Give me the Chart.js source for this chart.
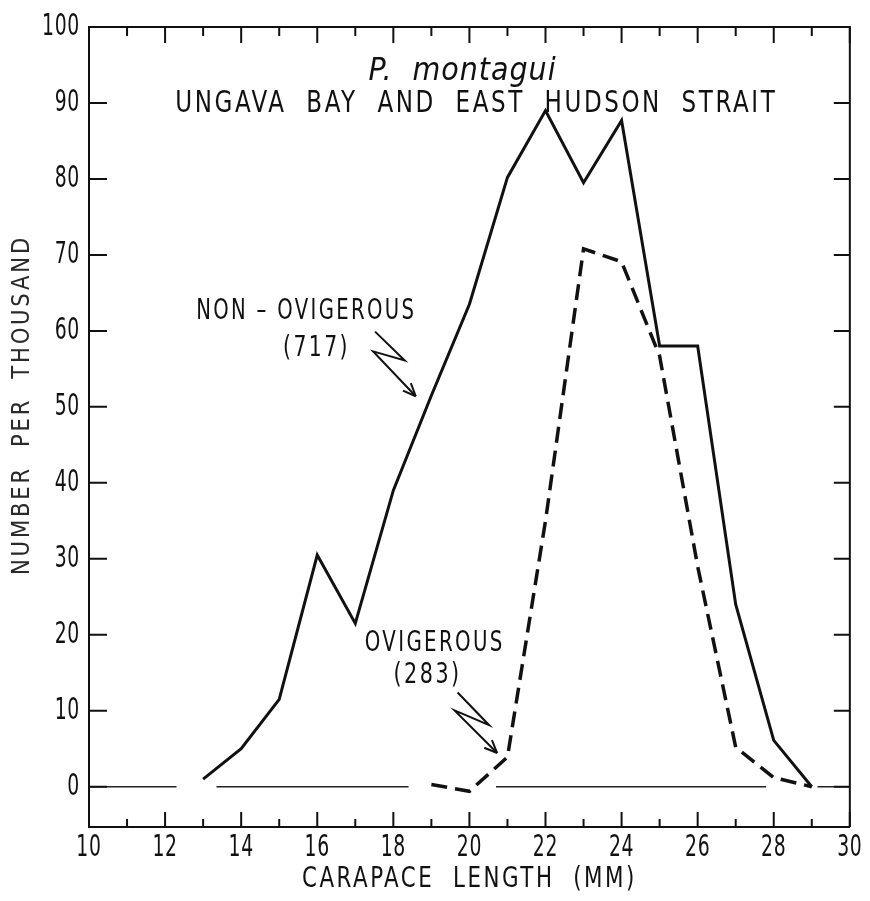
<!DOCTYPE html>
<html><head><meta charset="utf-8">
<script src="https://cdn.jsdelivr.net/npm/chart.js@4.4.1/dist/chart.umd.min.js"></script>
<style>html,body{margin:0;padding:0;background:#fff;}canvas{display:block;}</style>
</head><body>
<canvas id="c" width="870" height="901"></canvas>
<script>
// ---- data ----
const lengthsMM      = [13, 14, 15, 16, 17, 18, 19, 20, 21, 22, 23, 24, 25, 26, 27, 28, 29];
const nonOvigerous   = [1, 5, 11.5, 30.5, 21.5, 39, 51.5, 63.5, 80.2, 89, 79.5, 87.7, 58, 58, 24, 6.1, 0];
const ovigLengthsMM  = [19, 20, 21, 22, 23, 24, 25, 26, 27, 28, 29];
const ovigerous      = [0.3, -0.6, 3.9, 35, 70.8, 69.1, 56.7, 29, 5.2, 1.2, 0];
const zeroLineSegments = [[10, 12.3], [13.35, 18.4], [20.7, 27.8], [29.15, 30]];
const xTickValues    = [10, 12, 14, 16, 18, 20, 22, 24, 26, 28, 30];
const yTickValues    = [0, 10, 20, 30, 40, 50, 60, 70, 80, 90, 100];
const titleSpecies   = 'P.  montagui';
const titleRegion    = 'UNGAVA  BAY  AND  EAST  HUDSON  STRAIT';
const labelNonOvig   = ['NON – OVIGEROUS', '(717)'];
const labelOvig      = ['OVIGEROUS', '(283)'];
const xAxisTitle     = 'CARAPACE  LENGTH  (MM)';
const yAxisTitle     = 'NUMBER  PER  THOUSAND';

// ---- styling ----
const FONT = '"DejaVu Sans Condensed", "Liberation Sans Narrow", "Liberation Sans", sans-serif';
const INK = '#111';
const TICK_FONT_SIZE = 30, TICK_WIDTH_100 = 38;
const X_TITLE_SIZE = 28, X_TITLE_WIDTH = 335;
const Y_TITLE_SIZE = 25, Y_TITLE_LENGTH = 340, Y_TITLE_CENTER = 405;

const zeroLineData = [];
zeroLineSegments.forEach(([a, b]) => {
  zeroLineData.push({x: a, y: 0}, {x: b, y: 0}, {x: b, y: null});
});

function measure(ctx, font, spacing, s) {
  ctx.save(); ctx.font = font; ctx.letterSpacing = spacing + 'px';
  const w = ctx.measureText(s).width; ctx.restore(); return w;
}
function fitText(ctx, s, x, y, o) {
  ctx.save();
  ctx.font = (o.italic ? 'italic ' : '') + o.size + 'px ' + FONT;
  ctx.letterSpacing = (o.spacing || 0) + 'px';
  ctx.fillStyle = o.color || INK;
  ctx.textAlign = 'center';
  ctx.textBaseline = o.baseline || 'middle';
  const w = ctx.measureText(s).width;
  const sx = o.width ? o.width / w : 1;
  ctx.translate(x, y); ctx.scale(sx, 1);
  ctx.fillText(s, 0, 0);
  ctx.restore();
}

const frameAndNotes = {
  id: 'frameAndNotes',
  beforeDraw(chart) {
    const ctx = chart.ctx;
    const {x: xs, y: ys} = chart.scales;
    if (ys.__wrapped) return;
    ys.__wrapped = true;
    const tickSx = TICK_WIDTH_100 / measure(ctx, TICK_FONT_SIZE + 'px ' + FONT, 1, '100');
    // condensed tick labels (y)
    ys._computeLabelArea = () => undefined;
    const yDraw = ys.drawLabels.bind(ys);
    ys.drawLabels = function (area) {
      const x0 = this.right - this.options.ticks.padding;
      ctx.save(); ctx.letterSpacing = '1px';
      ctx.translate(x0, 0); ctx.scale(tickSx, 1); ctx.translate(-x0, 0);
      yDraw(area); ctx.restore();
    };
    // condensed tick labels (x)
    xs._computeLabelArea = () => undefined;
    const xDraw = xs.drawLabels.bind(xs);
    xs.drawLabels = function (area) {
      const items = this.getLabelItems(area);
      items.forEach(it => {
        if (!it.__adj) { const t = it.options.translation; it.options.translation = [t[0] / tickSx, t[1]]; it.__adj = true; }
      });
      ctx.save(); ctx.letterSpacing = '1px'; ctx.scale(tickSx, 1); xDraw(area); ctx.restore();
    };
    // x title
    const xt = xs.drawTitle.bind(xs);
    xs.drawTitle = function () {
      const s = X_TITLE_WIDTH / measure(ctx, X_TITLE_SIZE + 'px ' + FONT, 3, xAxisTitle);
      const x0 = (this.left + this.right) / 2;
      ctx.save(); ctx.letterSpacing = '3px';
      ctx.translate(x0, 0); ctx.scale(s, 1); ctx.translate(-x0, 0);
      xt(); ctx.restore();
    };
    // y title
    const yt = ys.drawTitle.bind(ys);
    ys.drawTitle = function () {
      const s = Y_TITLE_LENGTH / measure(ctx, Y_TITLE_SIZE + 'px ' + FONT, 3, yAxisTitle);
      const yc = (this.top + this.bottom) / 2;
      ctx.save(); ctx.letterSpacing = '3px';
      ctx.translate(0, Y_TITLE_CENTER); ctx.scale(1, s); ctx.translate(0, -yc);
      yt(); ctx.restore();
    };
  },
  afterDraw(chart) {
    const {ctx, chartArea: ca, scales: {x, y}} = chart;
    const X = v => x.getPixelForValue(v), Y = v => y.getPixelForValue(v);
    ctx.save();
    ctx.strokeStyle = INK; ctx.fillStyle = INK; ctx.lineCap = 'butt';
    // top & right frame
    ctx.lineWidth = 2;
    ctx.beginPath();
    ctx.moveTo(ca.left, ca.top); ctx.lineTo(ca.right, ca.top); ctx.lineTo(ca.right, ca.bottom);
    ctx.stroke();
    // inward ticks
    ctx.beginPath();
    for (let v = x.min; v <= x.max; v++) {
      const major = v % 2 === 0;
      const px = X(v);
      ctx.moveTo(px, ca.bottom); ctx.lineTo(px, ca.bottom - (major ? 15 : 8));
      ctx.moveTo(px, ca.top); ctx.lineTo(px, ca.top + (major ? 16 : 9));
    }
    yTickValues.forEach(v => {
      const py = Y(v);
      ctx.moveTo(ca.left, py); ctx.lineTo(ca.left + 18, py);
      ctx.moveTo(ca.right, py); ctx.lineTo(ca.right - 16, py);
    });
    ctx.stroke();

    // titles
    fitText(ctx, titleSpecies, X(19.82), Y(93), {size: 32, italic: true, width: 188, spacing: 1, baseline: 'alphabetic'});
    fitText(ctx, titleRegion, X(20.18), Y(89.8), {size: 30, width: 602, spacing: 3});

    // labels
    fitText(ctx, labelNonOvig[0], X(15.71), Y(62.5), {size: 28, width: 220, spacing: 3});
    fitText(ctx, labelNonOvig[1], X(15.98), Y(57.6), {size: 28, width: 67, spacing: 3});
    fitText(ctx, labelOvig[0], X(19.09), Y(18.8), {size: 28, width: 140, spacing: 3});
    fitText(ctx, labelOvig[1], X(18.9), Y(14.6), {size: 28, width: 68, spacing: 3});

    // zig-zag arrows
    const arrow = pts => {
      ctx.lineWidth = 2;
      ctx.beginPath();
      pts.forEach(([a, b], i) => { const px = X(a), py = Y(b); i ? ctx.lineTo(px, py) : ctx.moveTo(px, py); });
      ctx.stroke();
      const [a1, b1] = pts[pts.length - 2], [a2, b2] = pts[pts.length - 1];
      const x1 = X(a1), y1 = Y(b1), x2 = X(a2), y2 = Y(b2);
      const ang = Math.atan2(y2 - y1, x2 - x1);
      ctx.beginPath();
      [0.4, -0.4].forEach(d => {
        ctx.moveTo(x2, y2);
        ctx.lineTo(x2 - 14 * Math.cos(ang + d), y2 - 14 * Math.sin(ang + d));
      });
      ctx.stroke();
    };
    arrow([[17.52, 59.9], [18.30, 56.1], [17.47, 57.3], [18.59, 51.4]]);
    arrow([[19.69, 12.4], [20.52, 8.1], [19.61, 10.05], [20.73, 4.44]]);
    ctx.restore();
  }
};

new Chart(document.getElementById('c'), {
  type: 'line',
  data: {
    datasets: [
      {
        label: 'Non-ovigerous (717)',
        data: lengthsMM.map((l, i) => ({x: l, y: nonOvigerous[i]})),
        borderColor: INK, borderWidth: 3, pointRadius: 0, tension: 0, fill: false
      },
      {
        label: 'Ovigerous (283)',
        data: ovigLengthsMM.map((l, i) => ({x: l, y: ovigerous[i]})),
        borderColor: INK, borderWidth: 3.5, borderDash: [16, 8], pointRadius: 0, tension: 0, fill: false
      },
      {
        label: 'zero',
        data: zeroLineData,
        borderColor: '#222', borderWidth: 1.6, pointRadius: 0, spanGaps: false, fill: false
      }
    ]
  },
  options: {
    responsive: false,
    animation: false,
    devicePixelRatio: 1,
    layout: {padding: {top: 22, right: 15, left: 0, bottom: 0}},
    plugins: {legend: {display: false}, tooltip: {enabled: false}},
    scales: {
      x: {
        type: 'linear', min: 10, max: 30,
        afterFit(s) { s.height = 74; },
        afterBuildTicks(s) { s.ticks = xTickValues.map(v => ({value: v})); },
        grid: {display: false, drawTicks: false},
        border: {display: true, color: INK, width: 2},
        ticks: {color: INK, font: {family: FONT, size: TICK_FONT_SIZE}, padding: 3, maxRotation: 0, autoSkip: false},
        title: {display: true, text: xAxisTitle, color: INK, font: {family: FONT, size: X_TITLE_SIZE}, padding: {top: 0, bottom: 4}}
      },
      y: {
        type: 'linear', min: -5.3, max: 100,
        afterFit(s) { s.width = 89; },
        afterBuildTicks(s) { s.ticks = yTickValues.map(v => ({value: v})); },
        grid: {display: false, drawTicks: false},
        border: {display: true, color: INK, width: 2},
        ticks: {color: INK, font: {family: FONT, size: TICK_FONT_SIZE}, padding: 9, autoSkip: false},
        title: {display: true, text: yAxisTitle, color: '#2a2a2a', font: {family: FONT, size: Y_TITLE_SIZE}, padding: {top: 7, bottom: 0}}
      }
    }
  },
  plugins: [frameAndNotes]
});
</script>
</body></html>
